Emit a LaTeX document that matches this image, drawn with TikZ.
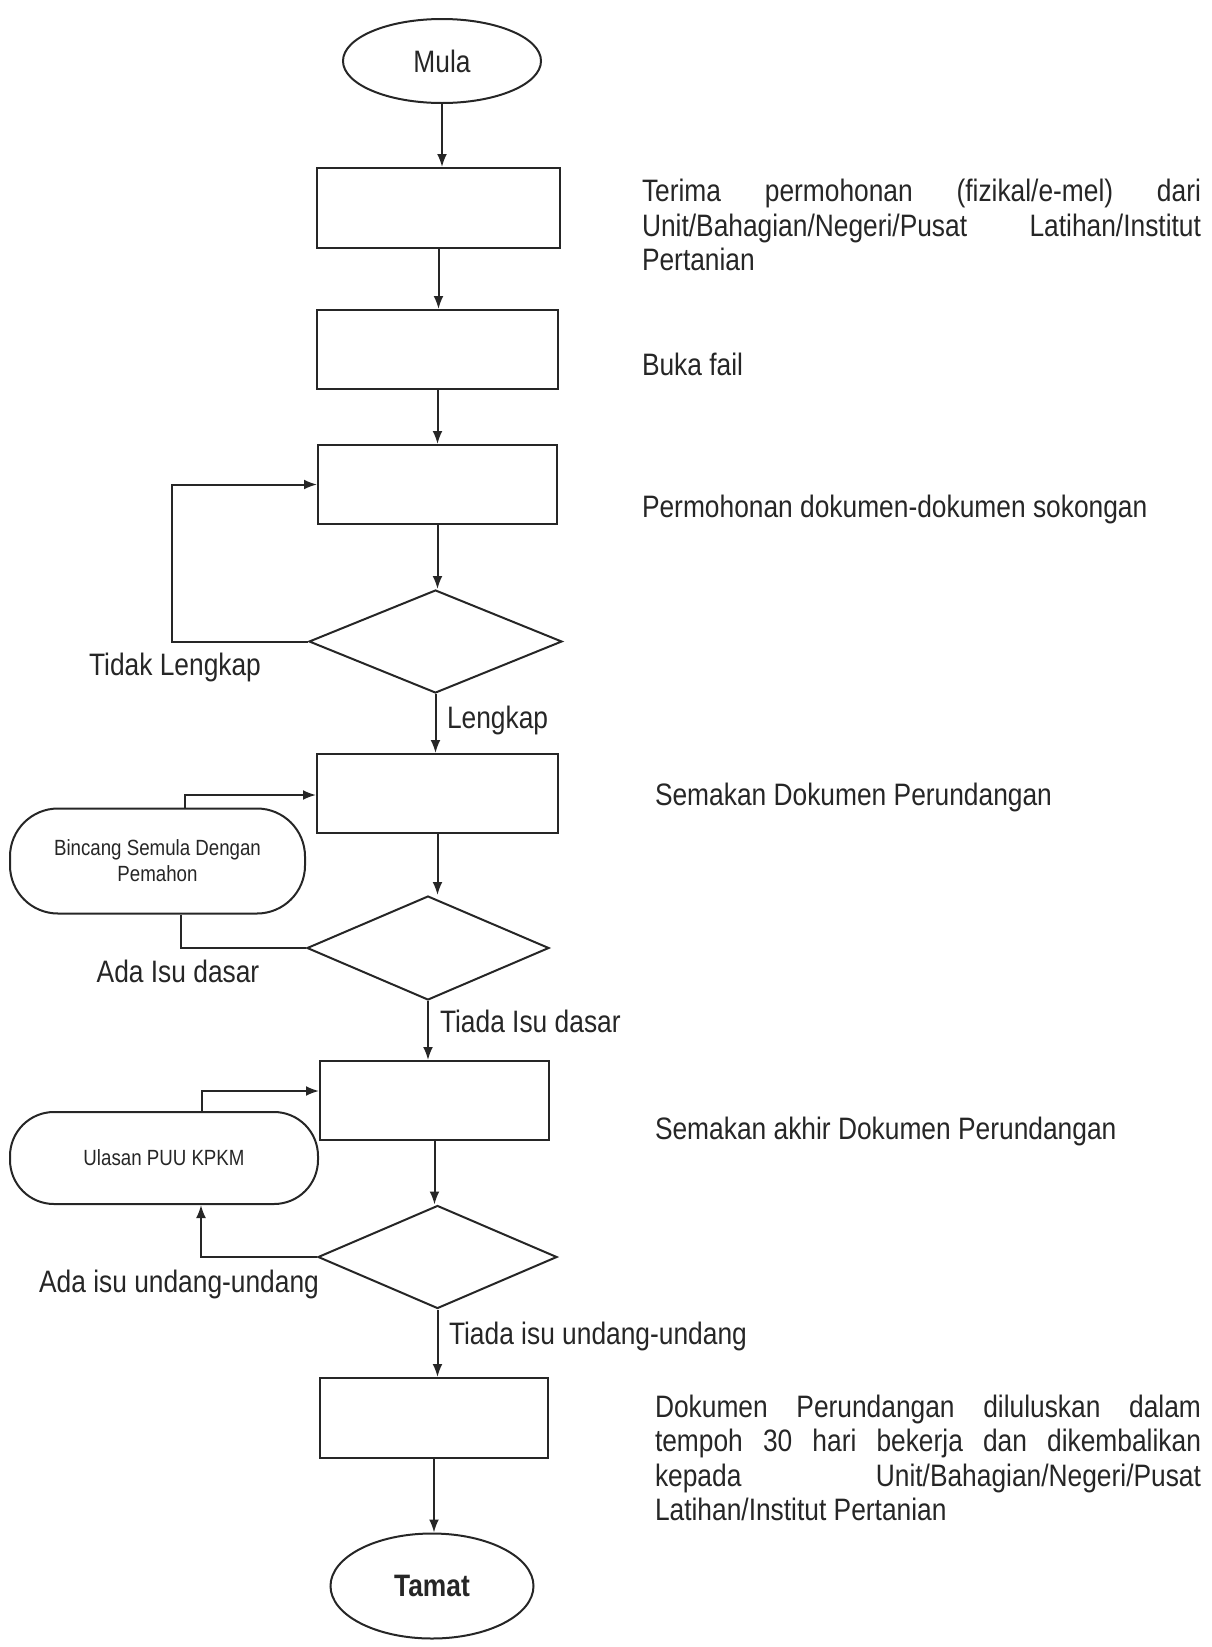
\documentclass[tikz,border=0pt]{standalone}
\usepackage{fontspec}
\setmainfont{Liberation Sans}[FakeStretch=0.85]
\usetikzlibrary{shapes.geometric,arrows.meta,calc}
\newcommand\mainsz{\fontsize{31}{34.5}\selectfont}
\newcommand\smallsz{\fontsize{22}{26}\selectfont}
\begin{document}
\begin{tikzpicture}[x=1pt,y=-1pt,
  line width=2pt,
  every node/.style={font=\mainsz, text=black!85},
  box/.style={draw=black!85, rectangle, inner sep=0pt},
  term/.style={draw=black!85, ellipse, inner sep=0pt},
  dec/.style={draw=black!85, diamond, inner sep=0pt},
  stad/.style={draw=black!85, rectangle, rounded corners=48pt, inner sep=0pt, align=center, font=\smallsz},
  desc/.style={inner sep=0pt, align=justify, anchor=west},
  lbl/.style={inner sep=0pt},
  arr/.style={draw=black!85, -{Latex[length=13pt,width=10pt]}},
  ln/.style={draw=black!85}
]
\useasboundingbox (0,0) rectangle (1212,1647);

% main column
\node[term, minimum width=198pt, minimum height=84pt] (mula) at (442,61) {Mula};
\node[box, minimum width=243pt, minimum height=80pt] (b1) at (438.5,208) {};
\node[box, minimum width=241pt, minimum height=79pt] (b2) at (437.5,349.5) {};
\node[box, minimum width=239pt, minimum height=79pt] (b3) at (437.5,484.5) {};
\node[dec, minimum width=253pt, minimum height=103pt] (d1) at (435.5,641.5) {};
\node[box, minimum width=241pt, minimum height=79pt] (b4) at (437.5,793.5) {};
\node[dec, minimum width=242pt, minimum height=104pt] (d2) at (428,948) {};
\node[box, minimum width=229pt, minimum height=79pt] (b5) at (434.5,1100.5) {};
\node[dec, minimum width=239pt, minimum height=103pt] (d3) at (437.5,1257) {};
\node[box, minimum width=228pt, minimum height=80pt] (b6) at (434,1418) {};
\node[term, minimum width=203pt, minimum height=105pt, font=\mainsz\bfseries] (tamat) at (432,1586) {Tamat};

% side terminators
\node[stad, minimum width=295pt, minimum height=105pt] (bin) at (157.5,861) {Bincang Semula Dengan\\Pemahon};
\node[stad, minimum width=308pt, minimum height=92pt, rounded corners=44pt] (ula) at (164,1158) {Ulasan PUU KPKM};

% main arrows
\draw[arr] (mula.south) -- (mula.south |- b1.north);
\draw[arr] (b1.south) -- (b1.south |- b2.north);
\draw[arr] (b2.south) -- (b2.south |- b3.north);
\draw[arr] (b3.south) -- (b3.south |- d1.north);
\draw[arr] (d1.south) -- (d1.south |- b4.north);
\draw[arr] (b4.south) -- (b4.south |- d2.north);
\draw[arr] (d2.south) -- (d2.south |- b5.north);
\draw[arr] (b5.south) -- (b5.south |- d3.north);
\draw[arr] (d3.south) -- (d3.south |- b6.north);
\draw[arr] (b6.south) -- (b6.south |- tamat.north);

% loop 1
\coordinate (l1) at (172,560);
\draw[arr] (d1.west) -| (l1) |- (b3.west);

% loop 2
\coordinate (bx1) at (185,795);
\draw[arr] (bx1 |- bin.north) -- (bx1) -- (bx1 -| b4.west);
\coordinate (bx2) at (181,948);
\draw[ln] (d2.west) -- (bx2 |- d2.west) -- (bx2 |- bin.south);

% loop 3
\coordinate (ux1) at (202,1091);
\draw[arr] (ux1 |- ula.north) -- (ux1) -- (ux1 -| b5.west);
\coordinate (ux2) at (201,1255);
\draw[arr] (d3.west) -- (ux2 |- d3.west) -- (ux2 |- ula.south);

% branch labels
\node[lbl] (tl) at (175,667) {Tidak Lengkap};
\node[lbl, anchor=west] (lk) at (446,720) {Lengkap};
\node[lbl] (aid) at (178,971) {Ada Isu dasar};
\node[lbl, anchor=west] (tid) at (439,1021) {Tiada Isu dasar};
\node[lbl] (aiu) at (179,1284) {Ada isu undang-undang};
\node[lbl, anchor=west] (tiu) at (448,1336) {Tiada isu undang-undang};

% descriptions
\node[desc, text width=559pt] (t1) at (641,225) {Terima permohonan (fizikal/e-mel) dari\linebreak Unit/Bahagian/Negeri/Pusat Latihan/Institut\linebreak Pertanian};
\node[lbl, anchor=west] (t2) at (641,364) {Buka fail};
\node[lbl, anchor=west] (t3) at (641,509) {Permohonan dokumen-dokumen sokongan};
\node[lbl, anchor=west] (t4) at (654,797) {Semakan Dokumen Perundangan};
\node[lbl, anchor=west] (t5) at (654,1131) {Semakan akhir Dokumen Perundangan};
\node[desc, text width=546pt] (t6) at (654,1458) {Dokumen Perundangan diluluskan dalam\linebreak tempoh 30 hari bekerja dan dikembalikan\linebreak kepada Unit/Bahagian/Negeri/Pusat\linebreak Latihan/Institut Pertanian};
\end{tikzpicture}
\end{document}
